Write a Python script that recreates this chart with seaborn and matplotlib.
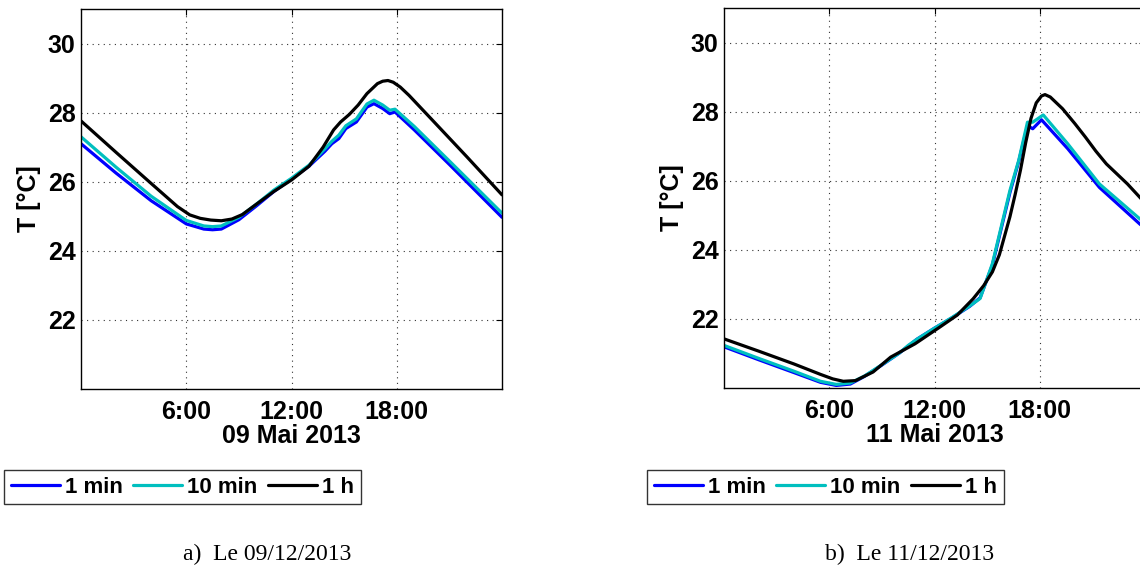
import matplotlib.pyplot as plt
import numpy as np
import pandas as pd
import seaborn as sns

# valeurs : heure du jour -> temperature [degC]
series_names = ["1 min", "10 min", "1 h"]
series_colors = ["#0000ff", "#00bfbf", "#000000"]

# 09 Mai 2013
h_09_1min = [0, 2, 4, 6, 7, 7.5, 8, 9, 10, 11, 12, 13, 13.9, 14.3, 14.7, 15.1, 15.7, 16.3, 16.7, 17.2, 17.6, 17.9, 19, 21, 24]
t_09_1min = [27.1, 26.25, 25.45, 24.78, 24.63, 24.61, 24.63, 24.9, 25.3, 25.72, 26.08, 26.45, 26.88, 27.1, 27.25, 27.54, 27.73, 28.16, 28.26, 28.12, 27.97, 28.02, 27.5, 26.5, 24.97]
h_09_10min = [0, 2, 4, 6, 7, 7.5, 8, 9, 10, 11, 12, 13, 13.9, 14.3, 14.7, 15.1, 15.7, 16.3, 16.7, 17.2, 17.6, 17.9, 19, 21, 24]
t_09_10min = [27.3, 26.42, 25.58, 24.88, 24.72, 24.7, 24.72, 24.97, 25.35, 25.76, 26.1, 26.48, 26.95, 27.17, 27.35, 27.62, 27.82, 28.25, 28.36, 28.22, 28.07, 28.1, 27.6, 26.6, 25.09]
h_09_1h = [0, 2, 4, 5.5, 6.2, 6.8, 7.4, 8, 8.6, 9.2, 10, 11, 12, 13, 13.8, 14.4, 14.8, 15.3, 15.8, 16.3, 16.9, 17.2, 17.5, 17.8, 18.2, 18.7, 20, 22, 24]
t_09_1h = [27.76, 26.85, 25.95, 25.28, 25.04, 24.94, 24.89, 24.87, 24.92, 25.05, 25.35, 25.72, 26.05, 26.45, 27.0, 27.5, 27.73, 27.95, 28.22, 28.55, 28.84, 28.91, 28.93, 28.88, 28.74, 28.5, 27.8, 26.72, 25.62]

# 11 Mai 2013
h_11_1min = [0, 2, 4, 5.5, 6.4, 7.2, 8, 9, 10, 10.5, 11, 12, 13, 14, 14.6, 15.3, 16.3, 16.8, 17.3, 17.6, 18.1, 19.6, 21.4, 23.7, 24]
t_11_1min = [21.18, 20.8, 20.43, 20.15, 20.06, 20.1, 20.32, 20.65, 21.0, 21.2, 21.4, 21.72, 22.02, 22.35, 22.6, 23.55, 25.65, 26.55, 27.59, 27.5, 27.76, 26.92, 25.8, 24.74, 24.62]
h_11_10min = [0, 2, 4, 5.5, 6.4, 7.2, 8, 9, 10, 10.5, 11, 12, 13, 14, 14.6, 15.3, 16.3, 16.8, 17.3, 17.6, 18.2, 19.6, 21.4, 23.7, 24]
t_11_10min = [21.22, 20.84, 20.47, 20.18, 20.09, 20.13, 20.33, 20.66, 21.0, 21.22, 21.4, 21.72, 22.03, 22.36, 22.58, 23.59, 25.71, 26.58, 27.69, 27.69, 27.9, 27.06, 25.9, 24.89, 24.78]
h_11_1h = [0, 2, 4, 5.5, 6.2, 6.8, 7.5, 8.5, 9.5, 10.9, 12.3, 13.3, 14.2, 14.8, 15.3, 15.7, 16.0, 16.3, 16.6, 16.9, 17.2, 17.5, 17.8, 18.1, 18.3, 18.6, 19.3, 20.0, 20.6, 21.2, 21.8, 23.0, 24]
t_11_1h = [21.41, 21.05, 20.68, 20.38, 20.25, 20.18, 20.2, 20.45, 20.88, 21.27, 21.75, 22.1, 22.57, 22.95, 23.35, 23.85, 24.4, 24.95, 25.6, 26.3, 27.1, 27.8, 28.25, 28.45, 28.49, 28.42, 28.08, 27.65, 27.26, 26.85, 26.48, 25.9, 25.35]

x_ticks = [6, 12, 18]
x_ticklabels = ["6:00", "12:00", "18:00"]
y_ticks = [22, 24, 26, 28, 30]
day_labels = ["09 Mai 2013", "11 Mai 2013"]
captions = ["a)  Le 09/12/2013", "b)  Le 11/12/2013"]


def make_df(hours, temps):
    frames = []
    for name, h, t in zip(series_names, hours, temps):
        frames.append(pd.DataFrame({"heure": h, "T": t, "serie": name}))
    return pd.concat(frames, ignore_index=True)


df_09 = make_df([h_09_1min, h_09_10min, h_09_1h], [t_09_1min, t_09_10min, t_09_1h])
df_11 = make_df([h_11_1min, h_11_10min, h_11_1h], [t_11_1min, t_11_10min, t_11_1h])

sns.set_theme(style="white")
plt.rcParams['font.family'] = ['Liberation Sans', 'DejaVu Sans']
plt.rcParams['font.weight'] = 'bold'
plt.rcParams['text.color'] = 'black'
plt.rcParams['axes.labelcolor'] = 'black'
plt.rcParams['xtick.color'] = 'black'
plt.rcParams['ytick.color'] = 'black'

fig = plt.figure(figsize=(11.4, 5.67), dpi=100)
W, H = 1140, 567
positions = [
    [81 / W, 1 - 389 / H, 421 / W, 380 / H],
    [724 / W, 1 - 387.5 / H, 421 / W, 379.5 / H],
]
legend_x = [4 / W, 647 / W]
caption_x = [267 / W, 910 / W]

for i, df in enumerate([df_09, df_11]):
    ax = fig.add_axes(positions[i])
    sns.lineplot(data=df, x="heure", y="T", hue="serie", hue_order=series_names,
                 palette=series_colors, sort=False, estimator=None,
                 linewidth=2.3, legend=False, ax=ax)
    ax.set_xlim(0, 24)
    ax.set_ylim(20, 31)
    ax.set_xticks(x_ticks)
    ax.set_xticklabels(x_ticklabels)
    ax.set_yticks(y_ticks)
    ax.tick_params(axis='both', direction='in', length=4, width=0.8,
                   top=True, right=True, labelsize=18)
    ax.tick_params(axis='x', pad=8)
    ax.tick_params(axis='y', pad=4)
    for lab in ax.get_xticklabels() + ax.get_yticklabels():
        lab.set_fontweight('bold')
    ax.grid(True, color='0.2', linestyle=(0, (1, 4)), linewidth=0.8)
    for sp in ax.spines.values():
        sp.set_color('black')
        sp.set_linewidth(1.0)
    ax.set_xlabel(day_labels[i], fontsize=18, fontweight='bold', labelpad=0)
    ax.set_ylabel("T [°C]", fontsize=18, fontweight='bold', labelpad=5)

    leg = ax.legend(handles=ax.lines[:3], labels=series_names, ncol=3,
                    loc='upper left', bbox_to_anchor=(legend_x[i], 1 - 470 / H),
                    bbox_transform=fig.transFigure, borderaxespad=0,
                    prop={'size': 16, 'weight': 'bold'}, frameon=True,
                    fancybox=False, handlelength=2.2, handletextpad=0.25,
                    columnspacing=0.45, borderpad=0.3)
    leg.get_frame().set_edgecolor('black')
    leg.get_frame().set_linewidth(1.0)

    fig.text(caption_x[i], 1 - 554 / H, captions[i], ha='center', va='center',
             fontsize=17, family=['Liberation Serif', 'DejaVu Serif'],
             fontweight='normal')

fig.savefig("out.png", dpi=100)
